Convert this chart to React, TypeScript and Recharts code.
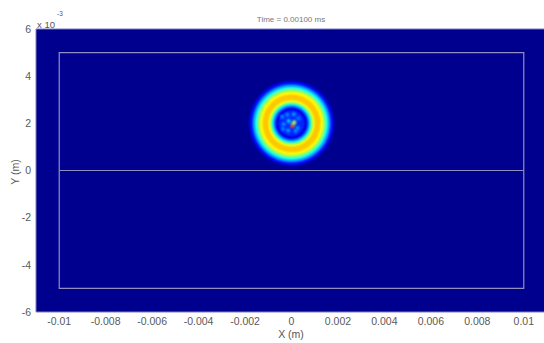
import React from "react";
import * as RC from "recharts";

const { ScatterChart, Scatter, XAxis, YAxis, ZAxis, ReferenceArea, ReferenceLine } = RC;

const FONT = "'Liberation Sans', Arial, sans-serif";

// axes (metres)
const X_DOMAIN = [-0.011, 0.011];
const Y_DOMAIN = [-0.006, 0.006];
const X_TICKS = [-0.01, -0.008, -0.006, -0.004, -0.002, 0, 0.002, 0.004, 0.006, 0.008, 0.01];
const Y_TICKS = [-0.006, -0.004, -0.002, 0, 0.002, 0.004, 0.006];

// computational box and symmetry line
const BOX_X = [-0.01, 0.01];
const BOX_Y = [-0.005, 0.005];

// source centre
const SOURCE = [{ x: 0, y: 0.002 }];

// radial profile of the field around the source (radius in m, normalised level)
const RING_RADIUS = [0, 0.0005, 0.00062, 0.0007, 0.00078, 0.00086, 0.00094, 0.00106, 0.00118, 0.0013, 0.00142, 0.00152, 0.00162, 0.00172, 0.00182, 0.0019];
const RING_LEVEL = [0.17, 0.16, 0.08, 0.2, 0.33, 0.47, 0.6, 0.68, 0.68, 0.63, 0.52, 0.4, 0.28, 0.15, 0.05, 0];

// speckle inside the core
const SPECK_X = [-0.0004, -0.00018, 0.0001, 0.0003, -0.00034, -0.00012, 0.00006, 0.00004, 0.00026, -0.00036, -0.00014, 0.00018, 0.00012];
const SPECK_Y = [0.00228, 0.00236, 0.00238, 0.00222, 0.00196, 0.0021, 0.00196, 0.00188, 0.0018, 0.00176, 0.0017, 0.00168, 0.00205];
const SPECK_LEVEL = [0.27, 0.27, 0.29, 0.25, 0.28, 0.34, 0.42, 0.82, 0.28, 0.26, 0.29, 0.27, 0.55];

const specks = SPECK_X.map((x, i) => ({ x, y: SPECK_Y[i], level: SPECK_LEVEL[i] }));

// MATLAB-style jet colormap
function jet(v: number) {
  const n = 4 * v;
  const c = (t: number) => Math.round(255 * Math.max(0, Math.min(1, t)));
  const r = c(Math.min(n - 1.5, -n + 4.5));
  const g = c(Math.min(n - 0.5, -n + 3.5));
  const b = c(Math.min(n + 0.5625, -n + 2.5));
  return `rgb(${r},${g},${b})`;
}

const fmtX = (v: number) => String(Number(v.toFixed(3)));
const fmtY = (v: number) => String(Math.round(v * 1000));

const CHART_W = 547;
const CHART_H = 343;
const Y_AXIS_W = 36;

function Ring({ cx, cy }: { cx: number; cy: number }) {
  const area = (RC as any).usePlotArea ? (RC as any).usePlotArea() : null;
  const plotW = area ? area.width : CHART_W - Y_AXIS_W;
  const pxPerM = plotW / (X_DOMAIN[1] - X_DOMAIN[0]);
  const rMax = RING_RADIUS[RING_RADIUS.length - 1];
  return (
    <g>
      <defs>
        <radialGradient id="ringGrad" cx="50%" cy="50%" r="50%">
          {RING_RADIUS.map((r, i) => (
            <stop key={i} offset={r / rMax} stopColor={jet(RING_LEVEL[i])} />
          ))}
        </radialGradient>
        <filter id="soft" x="-2" y="-2" width="5" height="5">
          <feGaussianBlur stdDeviation="1" />
        </filter>
      </defs>
      <circle cx={cx} cy={cy} r={rMax * pxPerM} fill="url(#ringGrad)" />
    </g>
  );
}

export default function App() {
  return (
    <div style={{ position: "fixed", left: 0, top: 0, width: 544, height: 343, overflow: "hidden", background: "#fff" }}>
      <ScatterChart width={CHART_W} height={CHART_H} margin={{ top: 29, right: 0, bottom: 0, left: 0 }}>
        <XAxis
          type="number"
          dataKey="x"
          domain={X_DOMAIN}
          ticks={X_TICKS}
          allowDataOverflow
          interval={0}
          tickFormatter={fmtX}
          axisLine={false}
          tickLine={false}
          tickSize={0}
          tickMargin={6}
          height={31}
          tick={{ fontSize: 10.5, fill: "#5a5a5a", fontFamily: FONT }}
        />
        <YAxis
          type="number"
          dataKey="y"
          domain={Y_DOMAIN}
          ticks={Y_TICKS}
          allowDataOverflow
          interval={0}
          tickFormatter={fmtY}
          axisLine={false}
          tickLine={false}
          tickSize={0}
          tickMargin={5}
          width={Y_AXIS_W}
          tick={{ fontSize: 10.5, fill: "#5a5a5a", fontFamily: FONT }}
        />
        <ZAxis type="number" range={[10, 10]} />
        <ReferenceArea
          x1={X_DOMAIN[0]}
          x2={X_DOMAIN[1]}
          y1={Y_DOMAIN[0]}
          y2={Y_DOMAIN[1]}
          fill={jet(0)}
          fillOpacity={1}
          stroke="#7c7cc4"
          strokeWidth={1}
        />
        <ReferenceArea
          x1={BOX_X[0]}
          x2={BOX_X[1]}
          y1={BOX_Y[0]}
          y2={BOX_Y[1]}
          fill="none"
          fillOpacity={0}
          stroke="#928fbf"
          strokeWidth={1.2}
        />
        <ReferenceLine
          segment={[{ x: BOX_X[0], y: 0 }, { x: BOX_X[1], y: 0 }]}
          stroke="#928fbf"
          strokeWidth={1.2}
        />
        <Scatter
          data={SOURCE}
          isAnimationActive={false}
          shape={(p: any) => <Ring cx={p.cx} cy={p.cy} />}
        />
        <Scatter
          data={specks}
          isAnimationActive={false}
          shape={(p: any) => (
            <circle cx={p.cx} cy={p.cy} r={2} fill={jet(p.payload.level)} filter="url(#soft)" />
          )}
        />
      </ScatterChart>
      <svg
        width={544}
        height={343}
        style={{ position: "absolute", left: 0, top: 0, pointerEvents: "none" }}
        fontFamily={FONT}
      >
        <text x={291} y={22} fontSize={8} fill="#777" textAnchor="middle">
          Time = 0.00100 ms
        </text>
        <text x={37} y={28} fontSize={9.5} fill="#555">
          x 10
        </text>
        <text x={57} y={16} fontSize={6.5} fill="#555">
          -3
        </text>
        <text x={291} y={338} fontSize={10.5} fill="#555" textAnchor="middle">
          X (m)
        </text>
        <text
          x={15}
          y={172}
          fontSize={10.5}
          fill="#555"
          textAnchor="middle"
          dominantBaseline="central"
          transform="rotate(-90 15 172)"
        >
          Y (m)
        </text>
      </svg>
    </div>
  );
}
